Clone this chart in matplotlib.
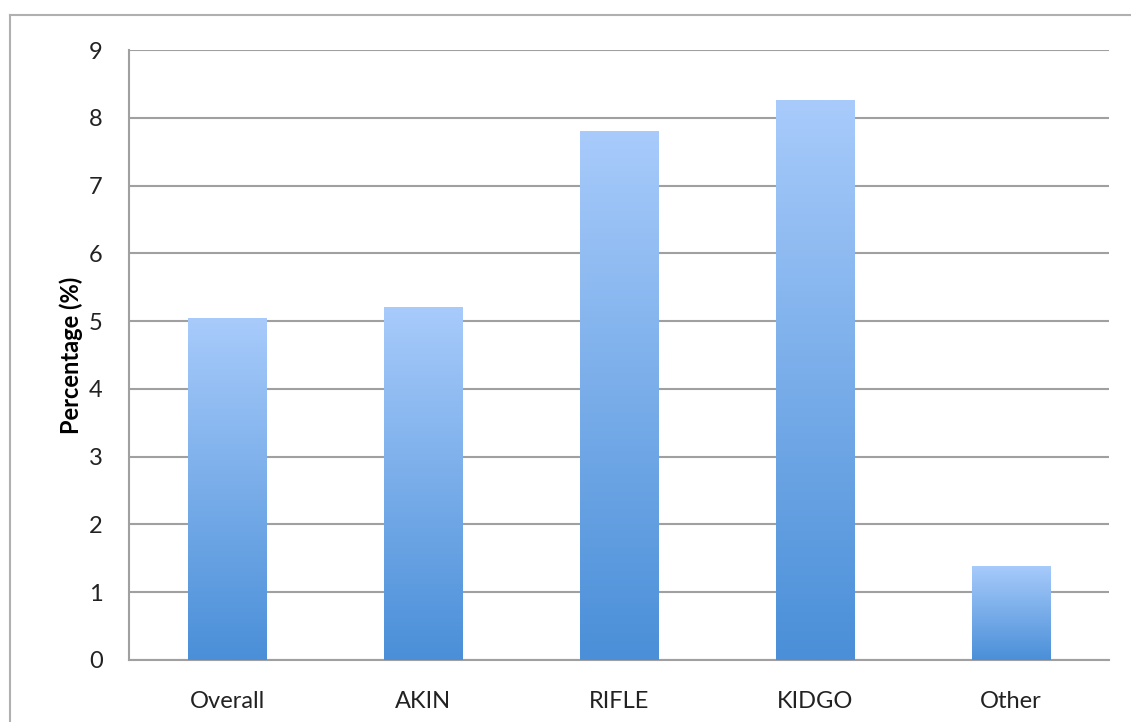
import numpy as np
import matplotlib
matplotlib.use('Agg')
import matplotlib.pyplot as plt
from matplotlib.colors import LinearSegmentedColormap
from matplotlib.lines import Line2D

categories = ['Overall', 'AKIN', 'RIFLE', 'KIDGO', 'Other']
values = [5.05, 5.21, 7.8, 8.26, 1.39]

plt.rcParams['font.family'] = ['Lato', 'DejaVu Sans']

fig = plt.figure(figsize=(11.31, 7.22), dpi=100)
ax = fig.add_axes([0.1141, 0.0859, 0.8664, 0.8448])

grid_col = '#a0a0a0'
x = np.arange(len(categories))
bars = ax.bar(x, values, width=0.4, color='none', edgecolor='none', zorder=3)

# vertical gradient per bar: dark at the base, light at the top
cmap = LinearSegmentedColormap.from_list('bar', ['#4a8fd8', '#a8cbfb'])
grad = np.linspace(0, 1, 256).reshape(-1, 1)
for b in bars:
    x0, y0 = b.get_x(), b.get_y()
    im = ax.imshow(grad, cmap=cmap, origin='lower', aspect='auto',
                   extent=[x0, x0 + b.get_width(), y0, y0 + b.get_height()],
                   zorder=3)
    im.set_clip_path(b)

ax.set_xlim(-0.5, len(categories) - 0.5)
ax.set_ylim(0, 9)
ax.set_yticks(range(10))
ax.set_xticks(x)
ax.set_xticklabels(categories)
ax.yaxis.grid(True, color=grid_col, linewidth=1.5, zorder=1)
ax.set_axisbelow(True)
for s in ['top', 'right']:
    ax.spines[s].set_visible(False)
for s in ['left', 'bottom']:
    ax.spines[s].set_color(grid_col)
    ax.spines[s].set_linewidth(1.5)
ax.tick_params(axis='both', length=0, labelsize=17, colors='#222222')
ax.tick_params(axis='y', pad=19)
ax.tick_params(axis='x', pad=22)
ax.set_ylabel('Percentage (%)', fontsize=17, fontweight='bold', labelpad=4)

# outer chart border (top and left edges visible)
fx, fy = 10 / 1131, 1 - 15 / 722
fig.add_artist(Line2D([fx, fx], [0, fy], color='#b0b0b0', linewidth=1.5))
fig.add_artist(Line2D([fx, 1], [fy, fy], color='#b0b0b0', linewidth=1.5))

fig.savefig('out.png', dpi=100)
